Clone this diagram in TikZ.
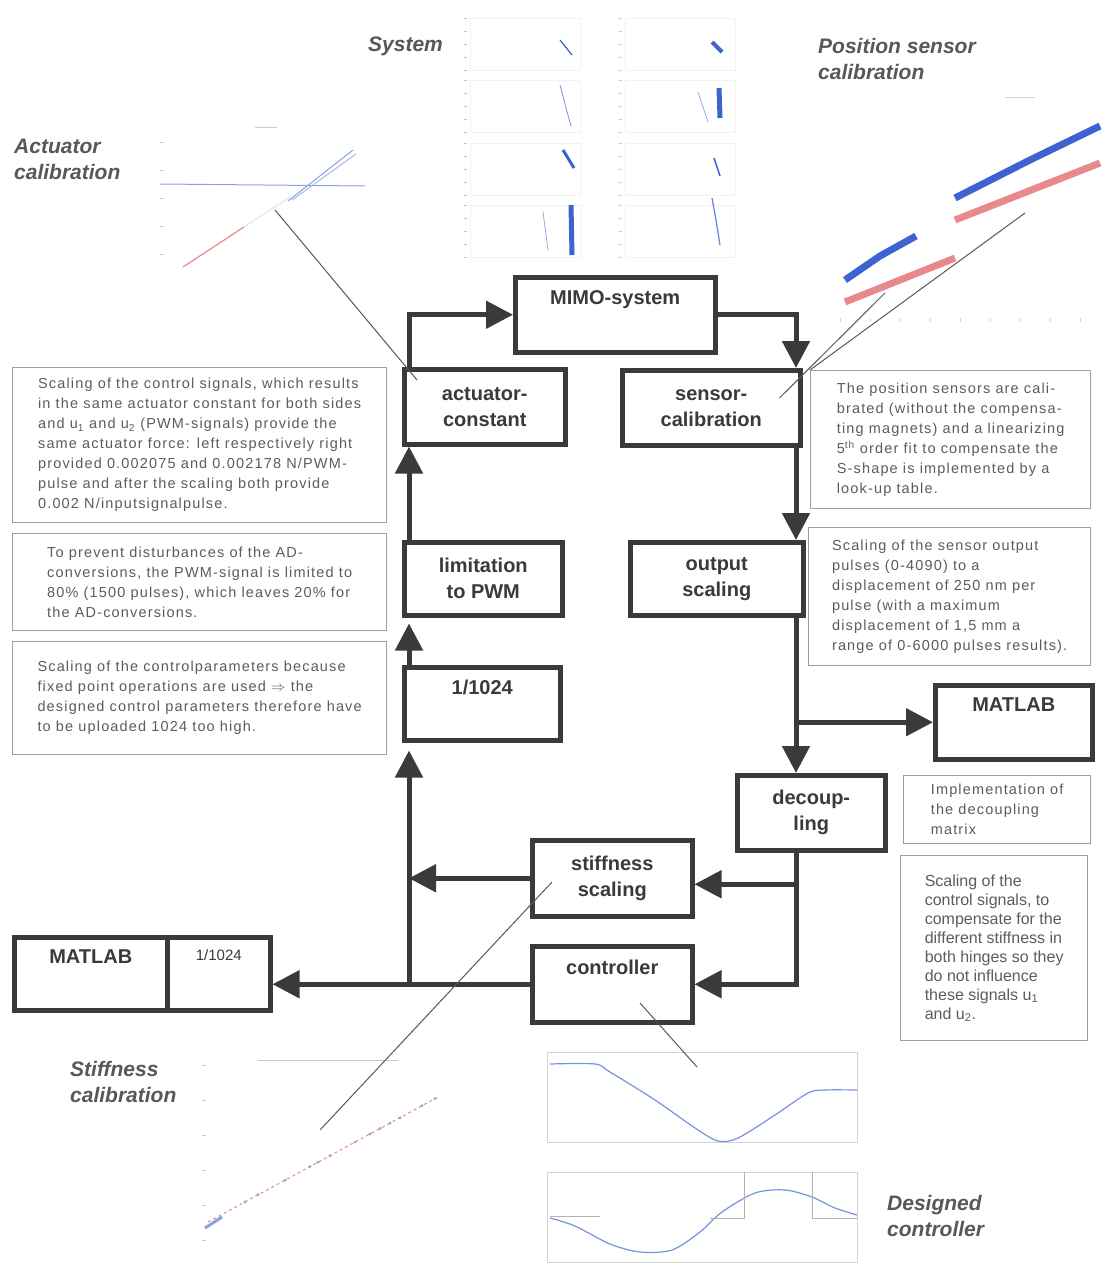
\documentclass[tikz,border=0pt]{standalone}
\usepackage{fontspec}
\setmainfont{Liberation Sans}
\newfontfamily\notefont[LetterSpace=8]{Liberation Sans}
\usetikzlibrary{arrows.meta,positioning}

\definecolor{ink}{HTML}{3A3A3A}
\definecolor{notegray}{HTML}{5C5C5C}
\definecolor{labelgray}{HTML}{585858}
\definecolor{plotblue}{HTML}{3D63D0}
\definecolor{plotpink}{HTML}{E8898E}

\tikzset{
  block/.style={draw=ink, line width=4.5pt, anchor=north west, inner sep=0pt},
  blabel/.style={text=ink, inner sep=0pt, align=center, font=\bfseries\fontsize{20}{26}\selectfont},
  flow/.style={draw=ink, line width=5pt, -{Triangle[length=27pt,width=27pt]}},
  note/.style={draw=gray!75, line width=1.3pt, anchor=north west, inner sep=0pt, align=left,
    text=notegray, font=\notefont\fontsize{14.5}{20}\selectfont},
  plainnote/.style={note, font=\fontsize{16}{19}\selectfont},
  plotlabel/.style={text=labelgray, inner sep=0pt, align=left, anchor=north west,
    font=\bfseries\itshape\fontsize{21}{26}\selectfont},
  pointer/.style={draw=ink!85, line width=1pt},
}

\begin{document}
\begin{tikzpicture}[x=1pt,y=-1pt]
  \useasboundingbox (0,0) rectangle (1119,1273);
  \fill[white] (0,0) rectangle (1119,1273);

  % captions of the plots
  \node[plotlabel] (lsys) at (368,37) {System};
  \node[plotlabel] (lpos) at (818,38) {Position sensor\\calibration};
  \node[plotlabel] (lact) at (14,139) {Actuator\\calibration};
  \node[plotlabel] (lstf) at (70,1061) {Stiffness\\calibration};
  \node[plotlabel] (ldes) at (887,1195) {Designed\\controller};

  % system plots
  \begin{scope}
    \foreach[count=\i] \px/\py in {470/18,470/80,625/18,625/80,470/143,470/205,625/143,625/205} {
      \draw[gray!10, line width=0.6pt] (\px,\py) rectangle ++(110,52);
      \foreach \t in {0,13,26,39,52}
        \draw[gray!45] (\px-6,\py+\t) -- ++(3,0);
    }
    \draw[plotblue, line width=1.2pt] (560,40) -- (572,55);
    \draw[plotblue!70, line width=0.8pt] (560,85) -- (566,108) -- (571,126);
    \draw[plotblue, line width=4pt] (712,42) -- (722,52);
    \draw[plotblue, line width=5pt] (719,88) -- (720,118);
    \draw[plotblue!60, line width=0.7pt] (698,92) -- (708,122);
    \draw[plotblue, line width=3pt] (563,150) -- (574,168);
    \draw[plotblue, line width=5pt] (571,205) -- (572,255);
    \draw[plotblue!60, line width=0.7pt] (543,212) -- (548,250);
    \draw[plotblue, line width=1.5pt] (714,158) -- (720,176);
    \draw[plotblue!80, line width=1.2pt] (712,198) -- (716,220) -- (720,245);
  \end{scope}

  % actuator calibration plot
  \begin{scope}
    \foreach \t in {142,170,198,226,254}
      \draw[gray!40] (160,\t) -- (164,\t);
    \draw[gray!40, line width=1pt] (255,128) -- (277,128);
    \draw[plotblue!60, line width=1pt] (160,184) -- (365,186);
    \draw[plotpink, line width=1.2pt] (183,267) -- (244,227);
    \draw[gray!25, line width=0.8pt] (244,227) -- (290,197);
    \draw[plotblue!60, line width=1pt] (288,201) -- (353,150);
    \draw[plotblue!45, line width=1pt] (292,200) -- (356,154);
  \end{scope}

  % position sensor calibration plot
  \begin{scope}
    \foreach \t in {840,870,900,930,960,990,1020,1050,1080}
      \draw[gray!35] (\t,318) -- (\t,322);
    \draw[gray!35, line width=1pt] (1005,98) -- (1035,98);
    \draw[plotblue, line width=7pt] (845,280) -- (880,256) -- (916,236);
    \draw[plotblue, line width=7pt] (955,198) -- (1030,160) -- (1100,126);
    \draw[plotpink, line width=7pt] (845,302) -- (955,258);
    \draw[plotpink, line width=7pt] (955,220) -- (1100,163);
  \end{scope}

  % stiffness calibration plot
  \begin{scope}
    \foreach \t in {1065,1100,1135,1170,1205,1240}
      \draw[gray!40] (202,\t) -- (206,\t);
    \draw[gray!45, line width=1pt] (258,1060) -- (398,1060);
    \draw[plotpink, line width=1pt, dashed] (208,1222) -- (438,1097);
    \foreach \mx in {245,258,285,310,318,330,355,370,380,390,400,422,435}
      \fill[gray!70] (\mx,{1222-(\mx-208)*0.5435}) circle (1.6pt);
    \draw[plotblue!60, line width=3pt] (205,1228) -- (222,1217);
  \end{scope}

  % designed controller plots
  \begin{scope}
    \draw[gray!35, line width=0.8pt] (547,1052) rectangle (857,1142);
    \draw[gray!35, line width=0.8pt] (547,1172) rectangle (857,1262);
    \draw[plotblue!70, line width=1.2pt] plot[smooth] coordinates {(550,1064) (595,1064) (610,1072) (655,1100)
      (695,1128) (718,1141) (738,1138) (775,1115) (808,1093) (825,1090) (857,1090)};
    \draw[plotblue!70, line width=1.2pt] plot[smooth] coordinates {(550,1218) (575,1226) (610,1244) (640,1252)
      (672,1250) (700,1232) (722,1212) (755,1193) (785,1190) (812,1197) (835,1208) (857,1215)};
    \draw[gray!60, line width=0.8pt] (550,1216) -- (600,1216) (710,1218) -- (744,1218) -- (744,1172)
      (812,1172) -- (812,1218) -- (857,1218);
  \end{scope}

  % blocks
  \node[block, minimum width=200pt, minimum height=75pt] (mimo) at (513,275) {};
  \node[blabel, below=15pt of mimo.north] (mimo-t) {MIMO-system};
  \node[block, blabel, minimum width=161pt, minimum height=75pt] (act) at (402,367) {actuator-\\constant};
  \node[block, blabel, minimum width=178pt, minimum height=75pt] (sens) at (620,368) {sensor-\\calibration};
  \node[block, blabel, minimum width=158pt, minimum height=73pt] (lim) at (402,540) {limitation\\to PWM};
  \node[block, minimum width=156pt, minimum height=73pt] (inv) at (402,665) {};
  \node[blabel, below=15pt of inv.north] (inv-t) {1/1024};
  \node[block, blabel, minimum width=173pt, minimum height=73pt] (out) at (628,540) {output\\scaling};
  \node[block, minimum width=157pt, minimum height=74pt] (mat) at (933,683) {};
  \node[blabel, below=15pt of mat.north] (mat-t) {MATLAB};
  \node[block, blabel, minimum width=148pt, minimum height=75pt] (dec) at (735,773) {decoup-\\ling};
  \node[block, blabel, minimum width=160pt, minimum height=76pt] (stiff) at (530,838) {stiffness\\scaling};
  \node[block, minimum width=160pt, minimum height=76pt] (ctrl) at (530,944) {};
  \node[blabel, below=16pt of ctrl.north] (ctrl-t) {controller};
  \node[block, minimum width=153pt, minimum height=73pt] (mleft) at (12,935) {};
  \node[blabel, below=15pt of mleft.north] (mleft-t) {MATLAB};
  \node[block, minimum width=103pt, minimum height=73pt] (scl) at (165,935) {};
  \node[blabel, font=\fontsize{15}{18}\selectfont, below=14pt of scl.north] (scl-t) {1/1024};

  % signal flow
  \coordinate (lx) at (409,0);
  \coordinate (rx) at (796,0);
  \draw[flow] (act.north -| lx) |- (mimo.west);
  \draw[flow] (mimo.east) -| (sens.north -| rx);
  \draw[flow] (sens.south -| rx) -- (out.north -| rx);
  \draw[flow] (out.south -| rx) -- (dec.north -| rx);
  \draw[flow] (mat.west -| rx) -- (mat.west);
  \draw[flow] (dec.south -| rx) |- (ctrl.east);
  \draw[flow] ([yshift=-6pt]stiff.east -| rx) -- ([yshift=-6pt]stiff.east);
  \draw[flow] (stiff.west) -- (stiff.west -| lx);
  \draw[flow] (ctrl.west) -- (ctrl.west -| scl.east);
  \draw[flow, shorten >=8pt] (ctrl.west -| lx) -- (inv.south -| lx);
  \draw[flow, shorten >=6pt] (inv.north -| lx) -- (lim.south -| lx);
  \draw[flow] (lim.north -| lx) -- (act.south -| lx);

  % notes
  \node[note, minimum width=374pt, minimum height=155pt] (n-act) at (12,367)
    {Scaling of the control signals, which results\\
     in the same actuator constant for both sides\\
     and u\textsubscript{1} and u\textsubscript{2} (PWM-signals) provide the\\
     same actuator force: left respectively right\\
     provided 0.002075 and 0.002178 N/PWM-\\
     pulse and after the scaling both provide\\
     0.002 N/inputsignalpulse.};
  \node[note, minimum width=374pt, minimum height=97pt] (n-lim) at (12,533)
    {To prevent disturbances of the AD-\\
     conversions, the PWM-signal is limited to\\
     80\% (1500 pulses), which leaves 20\% for\\
     the AD-conversions.};
  \node[note, minimum width=374pt, minimum height=113pt] (n-inv) at (12,641)
    {Scaling of the controlparameters because\\
     fixed point operations are used $\Rightarrow$ the\\
     designed control parameters therefore have\\
     to be uploaded 1024 too high.};
  \node[note, minimum width=280pt, minimum height=138pt] (n-sens) at (810,370)
    {The position sensors are cali-\\
     brated (without the compensa-\\
     ting magnets) and a linearizing\\
     5\textsuperscript{th} order fit to compensate the\\
     S-shape is implemented by a\\
     look-up table.};
  \node[note, minimum width=282pt, minimum height=138pt] (n-out) at (808,527)
    {Scaling of the sensor output\\
     pulses (0-4090) to a\\
     displacement of 250 nm per\\
     pulse (with a maximum\\
     displacement of 1,5 mm a\\
     range of 0-6000 pulses results).};
  \node[note, minimum width=187pt, minimum height=68pt] (n-dec) at (903,775)
    {Implementation of\\
     the decoupling\\
     matrix};
  \node[plainnote, minimum width=187pt, minimum height=185pt] (n-stiff) at (900,855)
    {Scaling of the\\
     control signals, to\\
     compensate for the\\
     different stiffness in\\
     both hinges so they\\
     do not influence\\
     these signals u\textsubscript{1}\\
     and u\textsubscript{2}.};

  % pointers from the plots
  \coordinate (acal) at (275,210);
  \coordinate (pcal) at (1025,213);
  \coordinate (pcal2) at (885,293);
  \coordinate (scal) at (320,1130);
  \coordinate (dcal) at (697,1067);
  \draw[pointer] (acal) -- ([shift={(15pt,-13pt)}]act.north west);
  \draw[pointer] (pcal) -- (n-sens.north west);
  \draw[pointer] (pcal2) -- ([shift={(-23pt,-30pt)}]sens.north east);
  \draw[pointer] (scal) -- ([shift={(22pt,-44pt)}]stiff.north west);
  \draw[pointer] (dcal) -- ([shift={(110pt,-59pt)}]ctrl.north west);
\end{tikzpicture}
\end{document}
